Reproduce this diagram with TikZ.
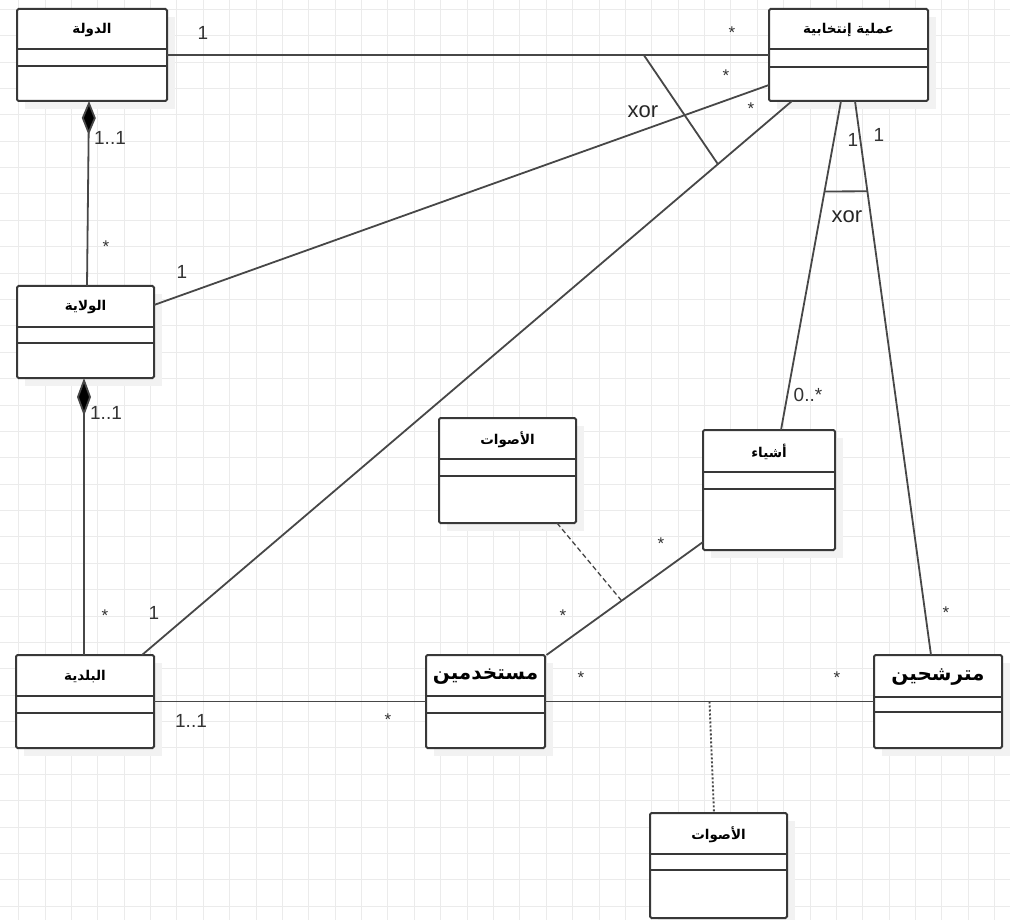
\documentclass[tikz,border=0pt]{standalone}
\usepackage{fontspec}
\setmainfont{Liberation Sans}
\newfontfamily\arabicfont[Script=Arabic]{DejaVu Sans}
\TeXXeTstate=1
\usetikzlibrary{arrows.meta,calc}

\tikzset{
  gridline/.style={draw=black!8, line width=1pt},
  boxline/.style={draw=black!78, line width=2pt},
  classnode/.style={rectangle, draw=black!78, line width=2pt, fill=white, rounded corners=1.5pt, inner sep=0pt, outer sep=0pt},
  shadowfill/.style={fill=black!5},
  conn/.style={draw=black!72, line width=1.8pt},
  mult/.style={font=\fontsize{19}{19}\selectfont, text=black!80, inner sep=0pt},
  starlab/.style={font=\fontsize{17}{17}\selectfont, text=black!80, inner sep=0pt},
  xorlab/.style={font=\fontsize{22}{22}\selectfont, text=black!85, inner sep=0pt},
  smalltitle/.style={font=\arabicfont\bfseries\fontsize{13.5}{13.5}\selectfont, inner sep=0pt},
  bigtitle/.style={font=\arabicfont\bfseries\fontsize{20}{20}\selectfont, inner sep=0pt},
}

% #1 name, #2 x1, #3 y1, #4 x2, #5 y2, #6 divider 1, #7 divider 2, #8 title, #9 title style
\newcommand{\classbox}[9]{%
  \fill[shadowfill] (#2+8,#3+8) rectangle (#4+8,#5+8);
  \node[classnode, minimum width={#4-#2}, minimum height={#5-#3}] (#1) at ({(#2+#4)/2},{(#3+#5)/2}) {};
  \draw[boxline] (#2,#6) -- (#4,#6) (#2,#7) -- (#4,#7);
  \node[#9] (#1-title) at ({(#2+#4)/2},{(#3+#6)/2+1}) {#8};
}

\begin{document}
\begin{tikzpicture}[x=1pt,y=-1pt]
\useasboundingbox (0,0) rectangle (1010,920);
\fill[white] (0,0) rectangle (1010,920);
% background grid
\foreach \i in {0,...,37} { \draw[gridline] ({18.67+26.38*\i},0) -- ({18.67+26.38*\i},920); }
\foreach \j in {0,...,34} { \draw[gridline] (0,{9.3+26.38*\j}) -- (1010,{9.3+26.38*\j}); }

% classes
\classbox{dawla}{17}{9}{167}{101}{49}{66}{\beginR الدولة\endR}{smalltitle}
\classbox{amaliya}{769}{9}{928}{101}{49}{67}{\beginR عملية إنتخابية\endR}{smalltitle}
\classbox{wilaya}{17}{286}{154}{378}{327}{343}{\beginR الولاية\endR}{smalltitle}
\classbox{baladiya}{16}{655}{154}{748}{696}{713}{\beginR البلدية\endR}{smalltitle}
\classbox{mustakh}{426}{655}{545}{748}{696}{713}{\beginR مستخدمين\endR}{bigtitle}
\classbox{mutarash}{874}{655}{1002}{748}{697}{712}{\beginR مترشحين\endR}{bigtitle}
\classbox{ashya}{703}{430}{835}{550}{472}{489}{\beginR أشياء\endR}{smalltitle}
\classbox{aswatA}{439}{418}{576}{523}{459}{476}{\beginR الأصوات\endR}{smalltitle}
\classbox{aswatB}{650}{813}{787}{918}{854}{870}{\beginR الأصوات\endR}{smalltitle}

% connectors
\draw[conn] (dawla.east) -- coordinate[pos=0.792] (c1) (amaliya.west);
\draw[conn, {Diamond[length=34pt,width=14pt,fill=black]}-] ([xshift=-3pt]dawla.south) -- ([xshift=1.5pt]wilaya.north);
\draw[conn] ([yshift=27pt]wilaya.east) -- ([yshift=-30pt]amaliya.west);
\draw[conn] ([xshift=57pt]baladiya.north) -- coordinate[pos=0.886] (c4) ([xshift=-56.5pt]amaliya.south);
\draw[conn, {Diamond[length=38pt,width=14pt,fill=black]}-] ([xshift=-1.5pt]wilaya.south) -- ([xshift=-1pt]baladiya.north);
\draw[conn] (baladiya.east) -- (mustakh.west);
\draw[conn] (mustakh.east) -- coordinate[pos=0.50] (c7) (mutarash.west);
\draw[conn] ([xshift=1.5pt]mustakh.north east) -- coordinate[pos=0.48] (c8) ([yshift=-52pt]ashya.west);
\draw[conn] ([xshift=-7.5pt]amaliya.south) -- coordinate[pos=0.275] (c9) ([xshift=12pt]ashya.north);
\draw[conn] ([xshift=6.5pt]amaliya.south) -- coordinate[pos=0.163] (c10) ([xshift=-7pt]mutarash.north);

% xor constraints
\draw[conn] (c1) -- (c4);
\draw[conn] (c9) -- (c10);
% association classes
\draw[conn, line width=1.3pt, dash pattern=on 5pt off 3pt] ([xshift=49.5pt]aswatA.south) -- (c8);
\draw[conn, line width=1.9pt, dash pattern=on 2pt off 2pt] (c7) -- ([xshift=-4.5pt]aswatB.north);

% labels
\node[xorlab] (x1) at (643,112) {xor};
\node[xorlab] (x2) at (847,217) {xor};

\node[mult] (m1) at (203,33) {1};
\node[starlab] (s1) at (732,33) {*};
\node[mult] (m2) at (110,138) {1..1};
\node[starlab] (s2) at (106,247) {*};
\node[mult] (m3) at (182,272) {1};
\node[starlab] (s3) at (726,76) {*};
\node[mult] (m4) at (154,613) {1};
\node[starlab] (s4) at (751,109) {*};
\node[mult] (m5) at (106,413) {1..1};
\node[starlab] (s5) at (105,616) {*};
\node[mult] (m6) at (191,721) {1..1};
\node[starlab] (s6) at (388,720) {*};
\node[starlab] (s7) at (581,678) {*};
\node[starlab] (s8) at (837,678) {*};
\node[starlab] (s9) at (563,616) {*};
\node[starlab] (s10) at (661,544) {*};
\node[mult] (m9) at (853,140) {1};
\node[mult] (m10) at (808,395) {0..*};
\node[mult] (m11) at (879,135) {1};
\node[starlab] (s11) at (946,613) {*};
\end{tikzpicture}
\end{document}
